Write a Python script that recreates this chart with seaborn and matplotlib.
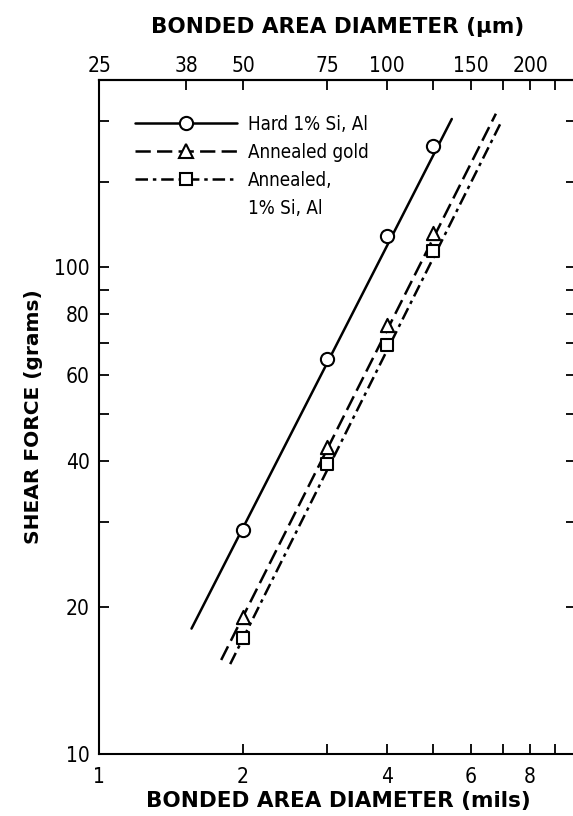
import numpy as np
import pandas as pd
import matplotlib
matplotlib.use("Agg")
import matplotlib.pyplot as plt
import seaborn as sns
from matplotlib.lines import Line2D
from matplotlib.ticker import FixedLocator, NullLocator, FixedFormatter

# ---------------- data ----------------
diam_mils = [2, 3, 4, 5]
hard_si_al = [28.9, 64.9, 115.7, 177.9]
annealed_gold = [19.1, 42.8, 76.2, 117.8]
annealed_si_al = [17.3, 39.5, 69.3, 107.8]

fit_hard_x = [1.56, 5.48]
fit_hard_y = [18.1, 201.7]
fit_gold_x = [1.80, 6.78]
fit_gold_y = [15.6, 206.8]
fit_annsi_x = [1.88, 6.95]
fit_annsi_y = [15.3, 198.5]

series_names = ["Hard 1% Si, Al", "Annealed gold", "Annealed,\n1% Si, Al"]

x_ticks = [1, 2, 3, 4, 5, 6, 7, 8, 9]
x_ticklabels = ["1", "2", "", "4", "", "6", "", "8", ""]
um_ticks = [25, 38, 50, 75, 100, 125, 150, 175, 200, 225]
um_ticklabels = ["25", "38", "50", "75", "100", "", "150", "", "200", ""]
y_ticks = [10, 20, 30, 40, 50, 60, 70, 80, 90, 100, 150, 200]
y_ticklabels = ["10", "20", "", "40", "", "60", "", "80", "", "100", "", ""]

# ---------------- style ----------------
sns.set_theme(style="ticks")
plt.rcParams["font.family"] = ["DejaVu Sans"]
plt.rcParams["font.stretch"] = "condensed"
plt.rcParams["lines.scale_dashes"] = False
plt.rcParams["text.color"] = "black"

fig = plt.figure(figsize=(5.73, 8.16), dpi=100)
ax = fig.add_axes([0.17347, 0.07598, 0.83246, 0.82647])

LW = 1.8
styles = [
    dict(ls="-", marker="o", ms=9.5),
    dict(ls=(0, (11, 4.5)), marker="^", ms=9.5),
    dict(ls=(0, (9, 3.5, 2.5, 3.5)), marker="s", ms=8.5),
]

fits = [(fit_hard_x, fit_hard_y), (fit_gold_x, fit_gold_y), (fit_annsi_x, fit_annsi_y)]
pts = [hard_si_al, annealed_gold, annealed_si_al]

handles = []
labels = []
for name, (fx, fy), py, st in zip(series_names, fits, pts, styles):
    dfl = pd.DataFrame({"x": fx, "y": fy})
    sns.lineplot(data=dfl, x="x", y="y", ax=ax, color="black", lw=LW,
                 linestyle=st["ls"], legend=False, zorder=2)
    dfp = pd.DataFrame({"x": diam_mils, "y": py})
    sns.scatterplot(data=dfp, x="x", y="y", ax=ax, marker=st["marker"],
                    s=st["ms"] ** 2, facecolor="white", edgecolor="black",
                    linewidth=1.5, legend=False, zorder=3)
    parts = name.split("\n")
    handles.append(Line2D([], [], color="black", lw=LW, linestyle=st["ls"],
                          marker=st["marker"], ms=st["ms"], mfc="white",
                          mec="black", mew=1.5))
    labels.append(parts[0])
    for extra in parts[1:]:
        handles.append(Line2D([], [], linestyle="none", marker=None))
        labels.append(extra)

ax.set_xscale("log")
ax.set_yscale("log")
ax.set_xlim(1, 10)
ax.set_ylim(10, 243)

ax.xaxis.set_major_locator(FixedLocator(x_ticks))
ax.xaxis.set_major_formatter(FixedFormatter(x_ticklabels))
ax.xaxis.set_minor_locator(NullLocator())
ax.yaxis.set_major_locator(FixedLocator(y_ticks))
ax.yaxis.set_major_formatter(FixedFormatter(y_ticklabels))
ax.yaxis.set_minor_locator(NullLocator())

ax.tick_params(axis="both", which="major", direction="in", length=7, width=1.3,
               labelsize=15, color="black", labelcolor="black")
ax.tick_params(axis="x", pad=9)
ax.tick_params(axis="y", pad=7, right=True)

for sp in ["left", "bottom", "top", "right"]:
    ax.spines[sp].set_color("black")
    ax.spines[sp].set_linewidth(1.5)

title_font = dict(fontsize=15.5, fontweight="bold", fontstretch="normal", color="black")
ax.set_xlabel("BONDED AREA DIAMETER (mils)", labelpad=3, **title_font)
ax.set_ylabel("SHEAR FORCE (grams)", labelpad=8,
              fontsize=14.5, fontweight="bold", fontstretch="normal", color="black")

sec = ax.secondary_xaxis("top", functions=(lambda x: x * 25.0, lambda x: x / 25.0))
sec.xaxis.set_major_locator(FixedLocator(um_ticks))
sec.xaxis.set_major_formatter(FixedFormatter(um_ticklabels))
sec.xaxis.set_minor_locator(NullLocator())
sec.tick_params(axis="x", which="major", direction="in", length=7, width=1.3,
                labelsize=15, pad=2.5, color="black", labelcolor="black")
sec.spines["top"].set_color("black")
sec.spines["top"].set_linewidth(1.5)
sec.set_xlabel("BONDED AREA DIAMETER (µm)", labelpad=17, **title_font)

leg = ax.legend(handles=handles, labels=labels, loc="upper left",
                bbox_to_anchor=(0.074, 0.948),
                frameon=False, fontsize=13.5, handlelength=5.45, handletextpad=0.6,
                labelspacing=0.48, borderpad=0, borderaxespad=0, numpoints=1,
                labelcolor="black")

fig.savefig("out.png", dpi=100)
